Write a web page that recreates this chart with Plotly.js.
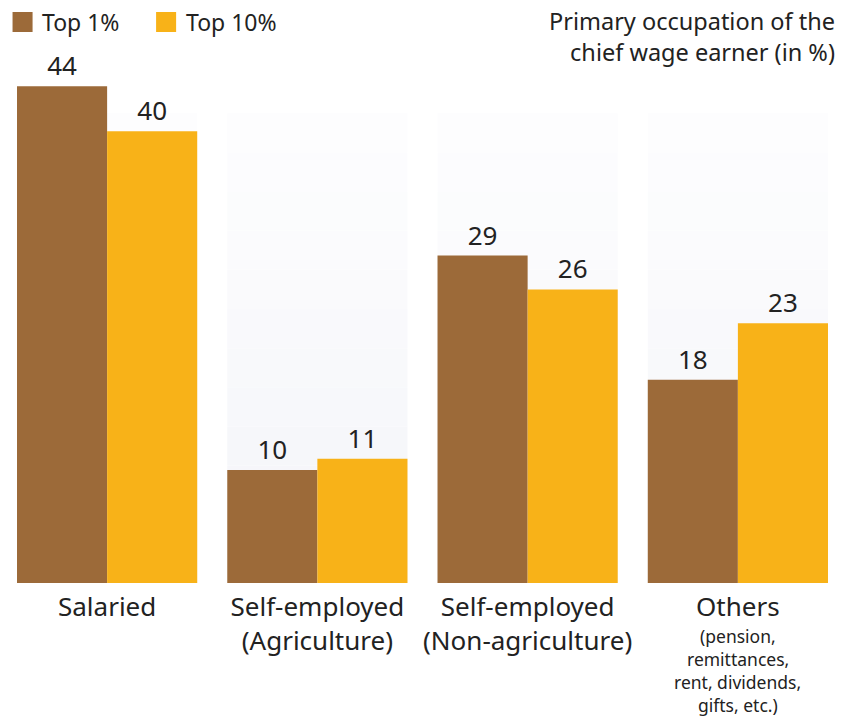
<!DOCTYPE html>
<html>
<head>
<meta charset="utf-8">
<script src="https://cdn.plot.ly/plotly-3.0.1.min.js"></script>
<style>html,body{margin:0;padding:0;background:#fff;}#chart{width:845px;height:717px;}</style>
</head>
<body>
<div id="chart"></div>
<script>
const categories = ["Salaried", "Self-employed (Agriculture)", "Self-employed (Non-agriculture)", "Others"];
const tickLabels = [
  "Salaried",
  "Self-employed<br>(Agriculture)",
  "Self-employed<br>(Non-agriculture)",
  "Others"
];
const othersNoteLines = ["(pension,", "remittances,", "rent, dividends,", "gifts, etc.)"];
const top1 = [44, 10, 29, 18];
const top10 = [40, 11, 26, 23];
const seriesNames = ["Top 1%", "Top 10%"];
const colors = ["#9C6A39", "#F8B218"];
const titleText = "Primary occupation of the<br>chief wage earner (in %)";

const xIdx = categories.map((c, i) => i);
const font = "'Noto Sans', 'Open Sans', sans-serif";

const traces = [
  {type: "bar", x: xIdx, y: top1, name: seriesNames[0], marker: {color: colors[0]},
   text: top1.map(String), textposition: "outside", cliponaxis: false,
   textfont: {size: 26, color: "#222"}, showlegend: false},
  {type: "bar", x: xIdx, y: top10, name: seriesNames[1], marker: {color: colors[1]},
   text: top10.map(String), textposition: "outside", cliponaxis: false,
   textfont: {size: 26, color: "#222"}, showlegend: false}
];

// faint vertical-gradient panels behind each group
const shapes = [];
const steps = 12, panelTop = 41.6;
for (let i = 0; i < categories.length; i++) {
  for (let s = 0; s < steps; s++) {
    const y0 = panelTop * s / steps, y1 = panelTop * (s + 1) / steps;
    const t = s / (steps - 1);
    const r = Math.round(244 + 9 * t), g = Math.round(245 + 8 * t), b = Math.round(249 + 5 * t);
    shapes.push({type: "rect", layer: "below", xref: "x", yref: "y",
      x0: i - 0.4286, x1: i + 0.4286, y0: y0, y1: y1,
      fillcolor: `rgb(${r},${g},${b})`, line: {width: 0}});
  }
}

// manual legend (squares + labels), paper coordinates
const legendX = [-0.0055, 0.1715];
const annotations = [];
seriesNames.forEach((n, i) => {
  shapes.push({type: "rect", xref: "paper", yref: "paper",
    x0: legendX[i], x1: legendX[i] + 0.0247, y0: 1.0166, y1: 1.0535,
    fillcolor: colors[i], line: {width: 0}});
  annotations.push({text: n, xref: "paper", yref: "paper", x: legendX[i] + 0.034, y: 1.035,
    xanchor: "left", yanchor: "middle", showarrow: false, font: {size: 23, color: "#222"}});
});

annotations.push({
  text: titleText, xref: "paper", yref: "paper", x: 1.0105, y: 1.008,
  xanchor: "right", yanchor: "middle", align: "right", showarrow: false,
  font: {size: 23.5, color: "#222"}
});
// sub-note under "Others", one line per annotation for tight spacing
const plotBottomPx = 583, plotHeightPx = 542;
othersNoteLines.forEach((line, k) => {
  const centerPx = 636 + k * 23;
  annotations.push({
    text: line, xref: "x", yref: "paper", x: 3, y: (plotBottomPx - centerPx) / plotHeightPx,
    xanchor: "center", yanchor: "middle", align: "center", showarrow: false, borderpad: 0,
    font: {size: 17.5, color: "#222"}
  });
});

const layout = {
  width: 845, height: 717,
  margin: {l: 17, r: 17, t: 41, b: 134},
  paper_bgcolor: "#fff", plot_bgcolor: "rgba(0,0,0,0)",
  font: {family: font, color: "#222"},
  barmode: "group", bargap: 0.1429, bargroupgap: 0,
  xaxis: {type: "linear", range: [-0.4286, 3.4286], tickvals: xIdx, ticktext: tickLabels,
    showgrid: false, zeroline: false, showline: false, ticks: "", automargin: false,
    ticklabelstandoff: 6,
    tickfont: {size: 26, color: "#222"}, fixedrange: true},
  yaxis: {range: [0, 48], visible: false, fixedrange: true, automargin: false},
  showlegend: false,
  shapes: shapes,
  annotations: annotations
};

Plotly.newPlot("chart", traces, layout, {displayModeBar: false, staticPlot: true});
</script>
</body>
</html>
